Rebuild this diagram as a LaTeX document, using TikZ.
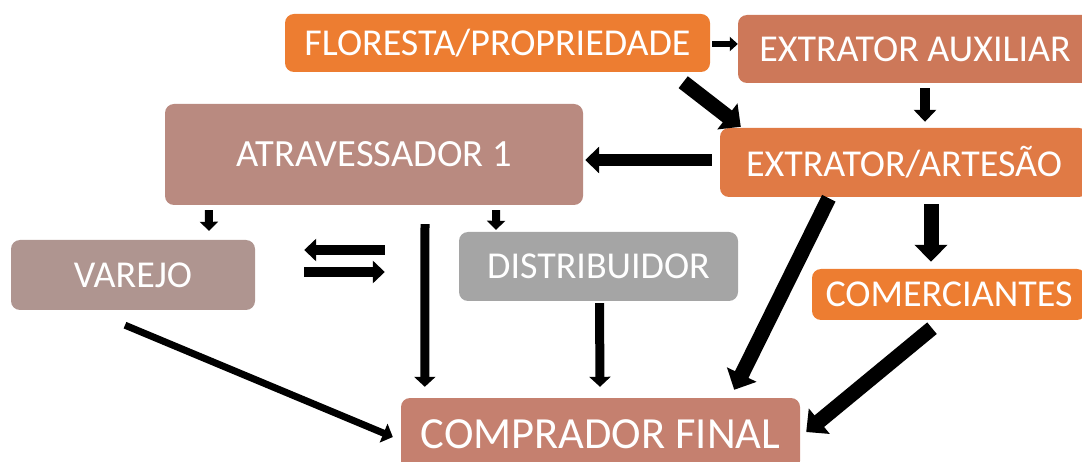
\documentclass[tikz,border=0pt]{standalone}
\usepackage{fontspec}
\setmainfont{Carlito}
\usetikzlibrary{arrows.meta,calc}
\definecolor{cflor}{HTML}{ED7D31}
\definecolor{caux}{HTML}{CD7859}
\definecolor{cart}{HTML}{E07A45}
\definecolor{catr}{HTML}{B98A80}
\definecolor{cvar}{HTML}{AF9590}
\definecolor{cdis}{HTML}{A5A5A5}
\definecolor{ccom}{HTML}{ED7D31}
\definecolor{cfin}{HTML}{C5806F}
\tikzset{
  box/.style={rectangle, rounded corners=9pt, text=white, inner sep=0pt, font=\fontsize{38}{40}\selectfont},
  arsmall/.style={line width=8pt, -{Triangle[length=9pt,width=18pt]}},
  armed/.style={line width=10pt, -{Triangle[length=12pt,width=22pt]}},
  arthick/.style={line width=15pt, -{Triangle[length=17pt,width=32pt]}},
  arthin/.style={line width=7pt, -{Triangle[length=10pt,width=20pt]}},
  arvert/.style={line width=9pt, -{Triangle[length=10pt,width=21pt]}},
}
\begin{document}
\begin{tikzpicture}[x=1pt,y=-1pt]
\useasboundingbox (0,0) rectangle (1082,462);
% boxes
\node[box, fill=cflor, minimum width=425pt, minimum height=58pt] (flor) at (497.5,43) {FLORESTA/PROPRIEDADE};
\node[box, fill=caux, minimum width=354pt, minimum height=68pt] (aux) at (915,49) {EXTRATOR AUXILIAR};
\node[box, fill=cart, minimum width=368pt, minimum height=69pt] (art) at (904,162.5) {EXTRATOR/ARTESÃO};
\node[box, fill=catr, minimum width=418pt, minimum height=101pt, font=\fontsize{38.5}{40}\selectfont] (atr) at (374,154.5) {ATRAVESSADOR 1};
\node[box, fill=cvar, minimum width=244pt, minimum height=70pt] (var) at (133,275) {VAREJO};
\node[box, fill=cdis, minimum width=279pt, minimum height=69pt] (dis) at (598.5,266.5) {DISTRIBUIDOR};
\node[box, fill=ccom, minimum width=274pt, minimum height=51pt] (com) at (949,294.5) {COMERCIANTES};
\node[box, fill=cfin, minimum width=399pt, minimum height=72pt, font=\fontsize{44.5}{46}\selectfont] (fin) at (600.5,434) {COMPRADOR FINAL};
% arrows
\draw[line width=6pt, -{Triangle[length=8pt,width=14pt]}] ($(flor.east)+(2,1)$) -- ($(aux.west)+(0,-5)$);
\draw[arthick] ($(flor.south east)+(-27,10)$) -- ($(art.north west)+(21,-1)$);
\draw[armed] ($(aux.south)+(10,5)$) -- ($(art.north)+(21,-6)$);
\draw[line width=12pt, -{Triangle[length=14pt,width=26pt]}] ($(art.west)+(-8,-2.5)$) -- ($(atr.east)+(2,5.5)$);
\draw[arsmall] ($(atr.south west)+(44,5)$) -- ($(var.north)+(76,-9)$);
\draw[arsmall] ($(atr.south east)+(-87,5)$) -- ($(dis.north)+(-102.5,-2)$);
\draw[armed] ($(dis.west)+(-74,-16.5)$) -- ($(var.east)+(49,-25)$);
\draw[armed] ($(var.east)+(49,-3)$) -- ($(dis.west)+(-74,5.5)$);
\draw[arvert] ($(atr.south)+(51,19)$) -- ($(fin.north west)+(24,-11)$);
\draw[arvert] ($(dis.south)+(1,2)$) -- ($(fin.north)+(-0.5,-11)$);
\draw[arthin] ($(var.south)+(-8,15)$) -- ($(fin.west)+(-8,3)$);
\draw[arthick] ($(art.south west)+(109,1)$) -- ($(fin.north east)+(-66,-8)$);
\draw[arthick] ($(art.south)+(27,7)$) -- ($(com.north)+(-18,-7)$);
\draw[arthick] ($(com.south)+(-17,8)$) -- ($(fin.east)+(6,-2)$);
\end{tikzpicture}
\end{document}
